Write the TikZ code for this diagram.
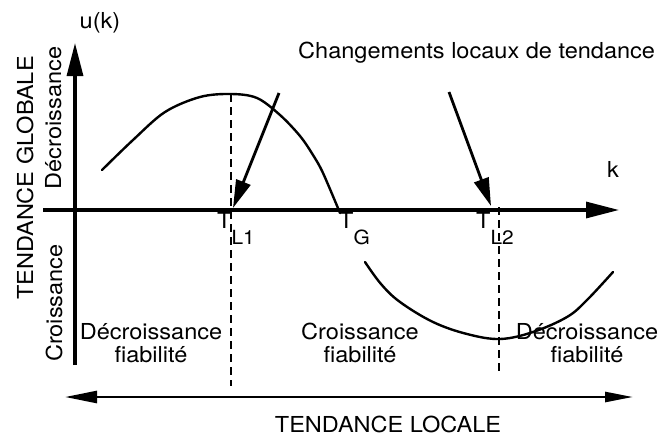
\documentclass[tikz,border=0pt]{standalone}
\usepackage{fontspec}
\setmainfont{TeX Gyre Heros}[FakeStretch=1.07]
\usetikzlibrary{arrows.meta}
\newcommand{\subsc}[1]{\lower16pt\hbox{\fontsize{19.5}{20}\selectfont #1}}
\begin{document}
\begin{tikzpicture}[x=1pt,y=-1pt,
  lbl/.style={inner sep=0pt, font=\fontsize{22}{23}\selectfont},
  vlbl/.style={lbl, rotate=90, anchor=base},
  axisline/.style={line width=3.2pt, -{Triangle[length=33pt,width=16pt]}},
  pointer/.style={line width=2.8pt, -{Triangle[length=28pt,width=15pt]}},
  curve/.style={line width=2.4pt, line join=round, line cap=round},
  guide/.style={line width=2.1pt, dash pattern=on 8pt off 5pt},
  bothway/.style={line width=2.6pt, {Triangle[length=32pt,width=12pt]}-{Triangle[length=28pt,width=10pt]}}]
\useasboundingbox (0,0) rectangle (663,436);

% axes
\coordinate (yb) at (75,365);
\coordinate (yt) at (75,43);
\coordinate (xl) at (43,210);
\coordinate (xr) at (619,210);
\draw[axisline] (yb) -- (yt);
\draw[axisline] (xl) -- (xr);

% dashed guides
\coordinate (g1t) at (231,94);
\coordinate (g1b) at (231,386);
\coordinate (g2t) at (499,207);
\coordinate (g2b) at (499,372);
\draw[guide] (g1t) -- (g1b);
\draw[guide] (g2t) -- (g2b);

% curves
\draw[curve] plot[smooth, tension=0.55] coordinates {(102,170) (133,140) (165,112) (200,97) (231,94) (257,98) (280,115) (300,136) (313,155) (323,173) (340,213)};
\draw[curve] plot[smooth, tension=0.6] coordinates {(365,262) (381,284) (400,302) (433,322) (467,334) (500,339) (533,332) (567,317) (587,300) (613,272)};

% pointers
\coordinate (p1s) at (279,93);
\coordinate (p1e) at (233,208);
\coordinate (p2s) at (449,92);
\coordinate (p2e) at (491,206);
\draw[pointer] (p1s) -- (p1e);
\draw[pointer] (p2s) -- (p2e);

% bottom double arrow
\coordinate (bl) at (65,397);
\coordinate (br) at (633,397);
\draw[bothway] (bl) -- (br);

% labels
\node[lbl, anchor=base] (uk) at (100,29) {u(k)};
\node[lbl, anchor=base west] (chg) at (298,59) {Changements locaux de tendance};
\node[lbl, anchor=base west] (kk) at (607,177) {k};
\node[lbl, anchor=base west] (tl1) at (217,228) {T\subsc{L1}};
\node[lbl, anchor=base west] (tg) at (339,228) {T\subsc{G}};
\node[lbl, anchor=base west] (tl2) at (476,228) {T\subsc{L2}};

\node[vlbl] (tgl) at (33,178) {TENDANCE GLOBALE};
\node[vlbl] (dec) at (61,118) {Décroissance};
\node[vlbl] (cro) at (62,303) {Croissance};

\node[lbl, anchor=base, align=center] (b1) at (151,362) {Décroissance\\fiabilité};
\node[lbl, anchor=base, align=center] (b2) at (360,362) {Croissance\\fiabilité};
\node[lbl, anchor=base, align=center] (b3) at (587,362) {Décroissance\\fiabilité};
\node[lbl, anchor=base] (tloc) at (388,432) {TENDANCE LOCALE};
\end{tikzpicture}
\end{document}
